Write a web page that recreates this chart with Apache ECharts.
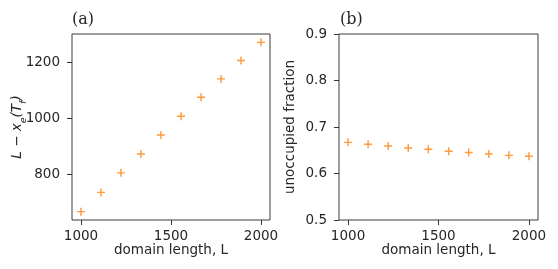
<!DOCTYPE html>
<html><head><meta charset="utf-8">
<script src="https://cdn.jsdelivr.net/npm/echarts@6/dist/echarts.min.js"></script>
<style>html,body{margin:0;padding:0;background:#fff}#c{width:558px;height:269px}</style>
</head><body><div id="c"></div>
<script>
const lengths = [1000, 1111, 1222, 1333, 1444, 1556, 1667, 1778, 1889, 2000];
const remaining = [666, 735, 805, 873, 941, 1008, 1076, 1142, 1208, 1273];
const unoccupied = [0.667, 0.663, 0.659, 0.655, 0.652, 0.648, 0.645, 0.642, 0.639, 0.637];
const xTicks = [1000, 1500, 2000];
const yTicksA = [800, 1000, 1200];
const yTicksB = [0.5, 0.6, 0.7, 0.8, 0.9];

const TXT = '#262626';
const plus = 'path://M-1,-0.18L-0.18,-0.18L-0.18,-1L0.18,-1L0.18,-0.18L1,-0.18L1,0.18L0.18,0.18L0.18,1L-0.18,1L-0.18,0.18L-1,0.18Z';
const font = 'DejaVu Sans';
const FS = 13.5;

function xAxis(i) {
  return {
    type: 'value', gridIndex: i, min: 950, max: 2050,
    name: 'domain length, L', nameLocation: 'middle', nameGap: 23, nameMoveOverlap: false,
    nameTextStyle: {color: TXT, fontFamily: font, fontSize: FS},
    axisLine: {show: false}, splitLine: {show: false},
    axisTick: {show: true, length: 5, lineStyle: {color: '#333'}, customValues: xTicks},
    axisLabel: {color: TXT, fontFamily: font, fontSize: FS, margin: 9, customValues: xTicks, formatter: v => String(v)}
  };
}
function yAxis(i, min, max, ticks, name, gap, fmt) {
  return {
    type: 'value', gridIndex: i, min: min, max: max,
    name: name, nameLocation: 'middle', nameGap: gap, nameMoveOverlap: false,
    nameTextStyle: {color: TXT, fontFamily: font, fontSize: FS, rich: {
      it: {fontStyle: 'italic', fontFamily: font, fontSize: FS, color: TXT},
      sub: {fontStyle: 'italic', fontFamily: font, fontSize: 9.5, color: TXT, verticalAlign: 'bottom', padding: [0,0,-5,0]}
    }},
    axisLine: {show: false}, splitLine: {show: false},
    axisTick: {show: true, length: 5, lineStyle: {color: '#333'}, customValues: ticks},
    axisLabel: {color: TXT, fontFamily: font, fontSize: FS, margin: 12, customValues: ticks, formatter: fmt}
  };
}

const chart = echarts.init(document.getElementById('c'), null, {renderer: 'canvas'});
chart.setOption({
  animation: false,
  title: [
    {text: '(a)', left: 72, top: 12, padding: 0, textStyle: {fontFamily: 'DejaVu Serif', fontWeight: 'normal', fontSize: 16, color: TXT}},
    {text: '(b)', left: 340, top: 12, padding: 0, textStyle: {fontFamily: 'DejaVu Serif', fontWeight: 'normal', fontSize: 16, color: TXT}}
  ],
  grid: [
    {left: 72, top: 34, width: 198, height: 186, show: true, borderColor: '#3a3a3a', borderWidth: 1},
    {left: 339, top: 34, width: 199, height: 186, show: true, borderColor: '#3a3a3a', borderWidth: 1}
  ],
  xAxis: [xAxis(0), xAxis(1)],
  yAxis: [
    yAxis(0, 636, 1303, yTicksA, '{it|L − x}{sub|e}{it|(T}{sub|f}{it|)}', 48, v => String(v)),
    yAxis(1, 0.5, 0.9, yTicksB, 'unoccupied fraction', 42, v => v.toFixed(1))
  ],
  series: [
    {type: 'scatter', xAxisIndex: 0, yAxisIndex: 0, data: lengths.map((x, k) => [x, remaining[k]]),
     symbol: plus, symbolSize: 8, itemStyle: {color: '#ff7f0e'}},
    {type: 'scatter', xAxisIndex: 1, yAxisIndex: 1, data: lengths.map((x, k) => [x, unoccupied[k]]),
     symbol: plus, symbolSize: 8, itemStyle: {color: '#ff7f0e'}}
  ]
});
</script></body></html>
